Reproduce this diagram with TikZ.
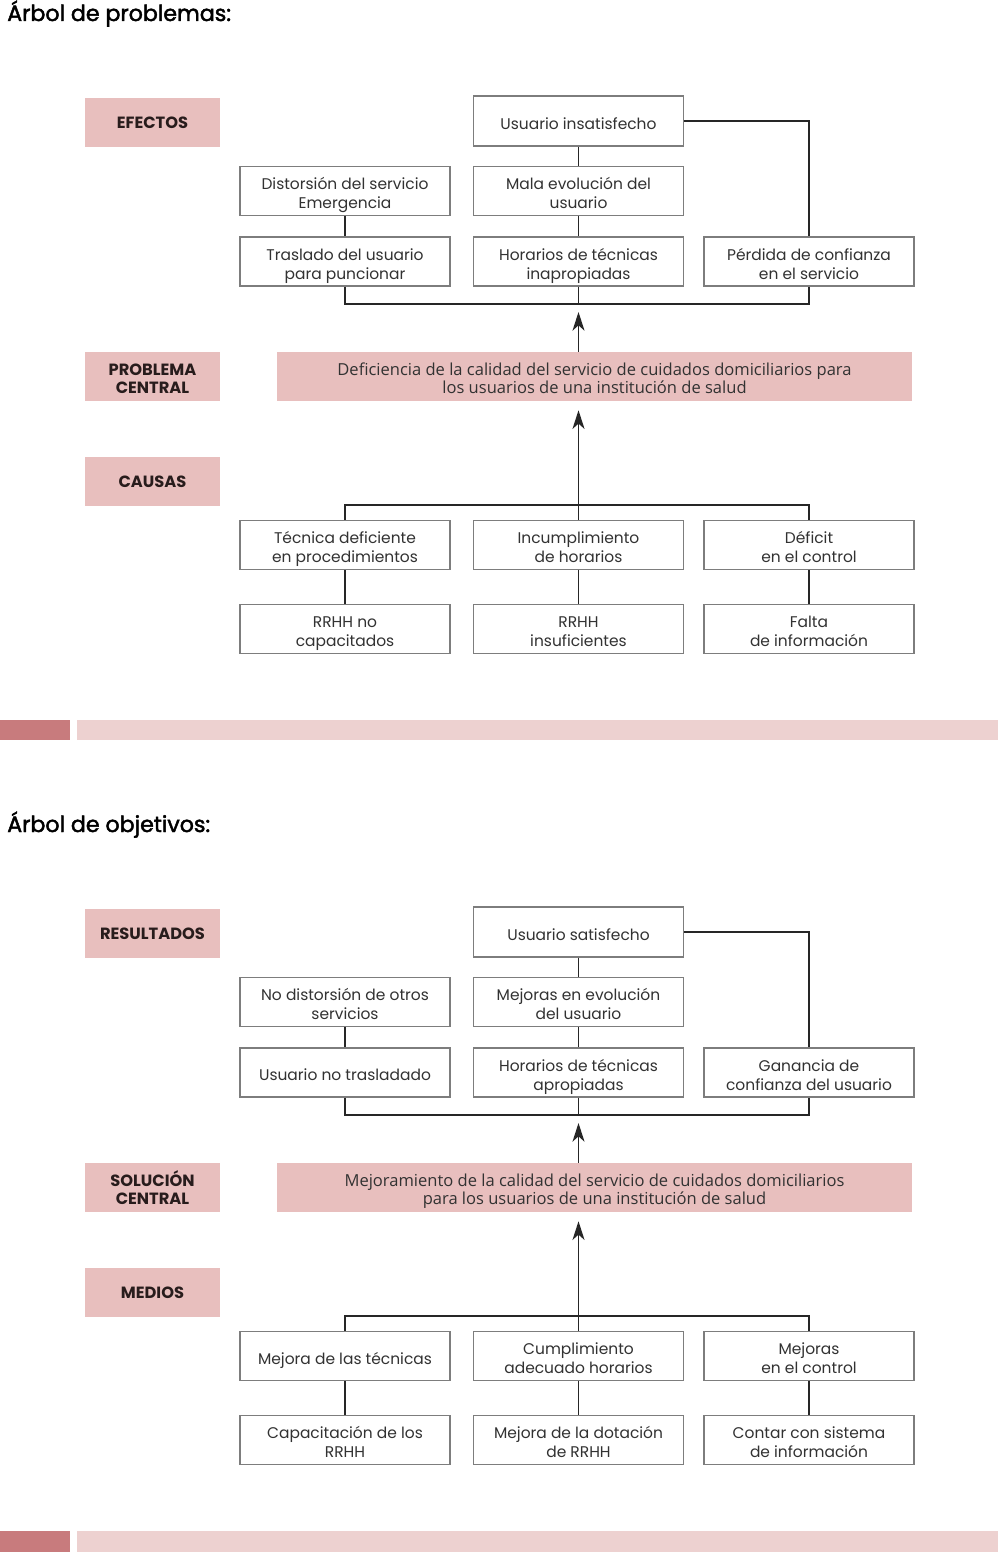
\documentclass[tikz,border=0pt]{standalone}
\usepackage{fontspec}
\setmainfont{Poppins}
\newfontfamily\ctrfont{Open Sans}
\newfontfamily\ttlfont[FakeBold=2]{Poppins}
\usetikzlibrary{arrows.meta}
\definecolor{boxline}{RGB}{125,125,125}
\definecolor{boxtext}{RGB}{50,50,50}
\definecolor{lblfill}{RGB}{232,191,190}
\definecolor{lbltext}{RGB}{40,28,28}
\definecolor{bardark}{RGB}{200,123,125}
\definecolor{barlight}{RGB}{237,209,208}
\tikzset{
  box/.style={draw=boxline, line width=0.9pt, fill=white, minimum width=157.5pt,
    minimum height=36.75pt, inner sep=0pt, align=center, text=boxtext,
    font=\fontsize{11.6}{14.25}\selectfont, text height=26.4pt, text depth=0pt},
  lbl/.style={fill=lblfill, minimum width=101.25pt, minimum height=36.75pt,
    inner sep=0pt, align=center, text=lbltext,
    font=\bfseries\fontsize{12.2}{14}\selectfont, text height=26.2pt, text depth=0pt},
  ctr/.style={fill=lblfill, minimum width=476.25pt, minimum height=36.75pt,
    inner sep=0pt, align=center, text=boxtext,
    font=\ctrfont\fontsize{12.4}{14.2}\selectfont, text height=26.2pt, text depth=0pt},
  one/.style={text height=#1, text depth=0pt},
  one/.default=12pt,
  ttl/.style={anchor=base west, inner sep=0pt, text=black,
    font=\ttlfont\fontsize{16.6}{18}\selectfont},
  conn/.style={line width=1.1pt, draw=black!85},
  arr/.style={conn, -{Stealth[length=14pt,width=9pt,inset=4pt]}},
  barD/.style={fill=bardark},
  barL/.style={fill=barlight},
}
\newcommand\treeconn[1]{%
  \draw[conn] (#1U.east) -| (#1P.north);
  \draw[conn] (#1U.south) -- (#1M.north);
  \draw[conn] (#1D.south) -- (#1T.north);
  \draw[conn] (#1M.south) -- (#1H.north);
  \draw[conn] (#1T.south) |- (#1J) -| (#1P.south);
  \draw[conn] (#1H.south) -- (#1J);
  \draw[arr, shorten >=6pt] (#1J |- #1C.north) -- (#1J);
  \draw[arr, shorten >=6.75pt] (#1K) -- (#1K |- #1C.south);
  \draw[conn] (#1A.north) |- (#1K) -| (#1F.north);
  \draw[conn] (#1B.north) -- (#1K);
  \draw[conn] (#1A.south) -- (#1X.north);
  \draw[conn] (#1B.south) -- (#1Y.north);
  \draw[conn] (#1F.south) -- (#1Z.north);
}
\begin{document}
\begin{tikzpicture}[x=0.75pt, y=-0.75pt]
\fill[white] (0,0) rectangle (1000,1552);
\useasboundingbox (0,0) rectangle (1000,1552);

% ---------- Árbol de problemas ----------
\begin{scope}
\node[ttl] (aTitle) at (7,21) {Árbol de problemas:};
\node[lbl, one=9pt] (aL1) at (152.5,122) {EFECTOS};
\node[lbl] (aL2) at (152.5,376.5) {PROBLEMA\\CENTRAL};
\node[lbl, one=9pt] (aL3) at (152.5,481.5) {CAUSAS};

\node[box, one, minimum height=37.5pt] (aU) at (578.5,121) {Usuario insatisfecho};
\node[box] (aD) at (345,191) {Distorsión del servicio\\Emergencia};
\node[box] (aM) at (578.5,191) {Mala evolución del\\usuario};
\node[box] (aT) at (345,261.5) {Traslado del usuario\\para puncionar};
\node[box] (aH) at (578.5,261.5) {Horarios de técnicas\\inapropiadas};
\node[box] (aP) at (809,261.5) {Pérdida de confianza\\en el servicio};
\coordinate (aJ) at (578.5,304);

\node[ctr] (aC) at (594.5,376.5) {Deficiencia de la calidad del servicio de cuidados domiciliarios para\\los usuarios de una institución de salud};

\coordinate (aK) at (578.5,505);
\node[box] (aA) at (345,545) {Técnica deficiente\\en procedimientos};
\node[box] (aB) at (578.5,545) {Incumplimiento\\de horarios};
\node[box] (aF) at (809,545) {Déficit\\en el control};
\node[box] (aX) at (345,629) {RRHH no\\capacitados};
\node[box] (aY) at (578.5,629) {RRHH\\insuficientes};
\node[box] (aZ) at (809,629) {Falta\\de información};
\treeconn{a}
\fill[barD] (0,720) rectangle (70,740);
\fill[barL] (77,720) rectangle (998,740);
\end{scope}

% ---------- Árbol de objetivos ----------
\begin{scope}[yshift=-608.25pt]
\node[ttl] (bTitle) at (7,21) {Árbol de objetivos:};
\node[lbl, one=9pt] (bL1) at (152.5,122) {RESULTADOS};
\node[lbl] (bL2) at (152.5,376.5) {SOLUCIÓN\\CENTRAL};
\node[lbl, one=9pt] (bL3) at (152.5,481.5) {MEDIOS};

\node[box, one, minimum height=37.5pt] (bU) at (578.5,121) {Usuario satisfecho};
\node[box] (bD) at (345,191) {No distorsión de otros\\servicios};
\node[box] (bM) at (578.5,191) {Mejoras en evolución\\del usuario};
\node[box, one] (bT) at (345,261.5) {Usuario no trasladado};
\node[box] (bH) at (578.5,261.5) {Horarios de técnicas\\apropiadas};
\node[box] (bP) at (809,261.5) {Ganancia de\\confianza del usuario};
\coordinate (bJ) at (578.5,304);

\node[ctr] (bC) at (594.5,376.5) {Mejoramiento de la calidad del servicio de cuidados domiciliarios\\para los usuarios de una institución de salud};

\coordinate (bK) at (578.5,505);
\node[box, one] (bA) at (345,545) {Mejora de las técnicas};
\node[box] (bB) at (578.5,545) {Cumplimiento\\adecuado horarios};
\node[box] (bF) at (809,545) {Mejoras\\en el control};
\node[box] (bX) at (345,629) {Capacitación de los\\RRHH};
\node[box] (bY) at (578.5,629) {Mejora de la dotación\\de RRHH};
\node[box] (bZ) at (809,629) {Contar con sistema\\de información};
\treeconn{b}
\fill[barD] (0,720) rectangle (70,741);
\fill[barL] (77,720) rectangle (998,741);
\end{scope}
\end{tikzpicture}
\end{document}
